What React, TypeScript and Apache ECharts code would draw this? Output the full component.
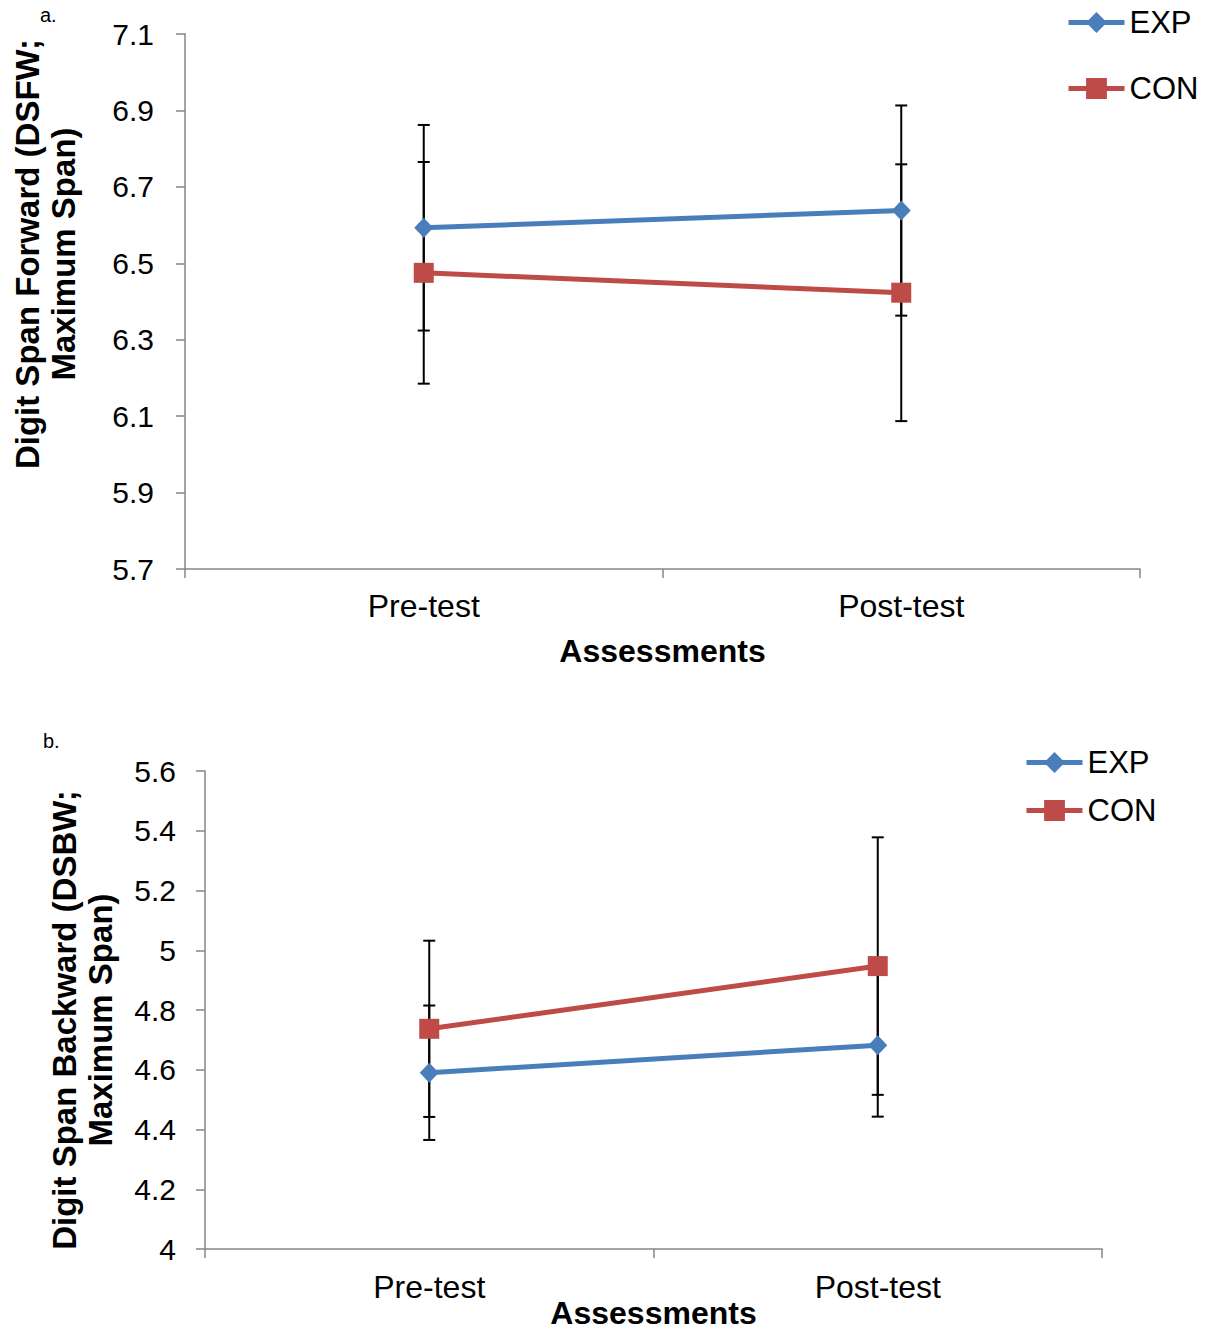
import React, { useEffect, useRef } from "react";
import * as echarts from "echarts";

// Assessment points on the x axis
const categories = ["Pre-test", "Post-test"];
const seriesNames = ["EXP", "CON"];

// (a) Digit Span Forward: group means and error bar half-widths
const fwExp = [6.593, 6.638];
const fwExpErr = [0.269, 0.275];
const fwCon = [6.475, 6.423];
const fwConErr = [0.29, 0.336];

// (b) Digit Span Backward: group means and error bar half-widths
const bwExp = [4.59, 4.682];
const bwExpErr = [0.225, 0.239];
const bwCon = [4.737, 4.947];
const bwConErr = [0.295, 0.431];

// Value axis ranges
const fwTicks = [5.7, 5.9, 6.1, 6.3, 6.5, 6.7, 6.9, 7.1];
const bwTicks = [4, 4.2, 4.4, 4.6, 4.8, 5, 5.2, 5.4, 5.6];

const BLUE = "#4A7EBB";
const RED = "#BE4B48";
const AXIS = "#868686";
const FONT = '"Liberation Sans", Arial, sans-serif';

function errorData(means: number[], errs: number[]) {
  return means.map((m, i) => [i, m - errs[i], m + errs[i]]);
}

function renderErrorBar(params: any, api: any) {
  const x = api.value(0);
  const lo = api.coord([x, api.value(1)]);
  const hi = api.coord([x, api.value(2)]);
  const cap = 6;
  const style = { stroke: "#000", lineWidth: 2 };
  return {
    type: "group",
    children: [
      { type: "line", shape: { x1: lo[0], y1: lo[1], x2: hi[0], y2: hi[1] }, style },
      { type: "line", shape: { x1: hi[0] - cap, y1: hi[1], x2: hi[0] + cap, y2: hi[1] }, style },
      { type: "line", shape: { x1: lo[0] - cap, y1: lo[1], x2: lo[0] + cap, y2: lo[1] }, style },
    ],
  };
}

function valueAxis(gridIndex: number, ticks: number[], margin: number, digits: boolean) {
  return {
    type: "value",
    gridIndex,
    min: ticks[0],
    max: ticks[ticks.length - 1],
    interval: Math.round((ticks[1] - ticks[0]) * 10) / 10,
    axisLine: { show: true, lineStyle: { color: AXIS, width: 1.5 } },
    axisTick: { show: true, length: 9, lineStyle: { color: AXIS, width: 1.5 } },
    splitLine: { show: false },
    axisLabel: {
      color: "#000",
      fontSize: 30,
      fontFamily: FONT,
      margin,
      formatter: (v: number) => (digits ? v.toFixed(1) : String(Math.round(v * 10) / 10)),
    },
  };
}

function categoryAxis(gridIndex: number, labelMargin: number, nameGap: number) {
  return {
    type: "category",
    gridIndex,
    data: categories,
    boundaryGap: true,
    name: "Assessments",
    nameLocation: "middle",
    nameGap,
    nameMoveOverlap: false,
    nameTextStyle: { color: "#000", fontSize: 32, fontWeight: "bold", fontFamily: FONT },
    axisLine: { show: true, lineStyle: { color: AXIS, width: 1.5 } },
    axisTick: { show: true, length: 9, alignWithLabel: false, lineStyle: { color: AXIS, width: 1.5 } },
    axisLabel: { color: "#000", fontSize: 32, fontFamily: FONT, margin: labelMargin },
  };
}

function lineSeries(name: string, data: number[], axisIndex: number, color: string, symbol: string, size: any) {
  return {
    type: "line",
    name,
    data,
    xAxisIndex: axisIndex,
    yAxisIndex: axisIndex,
    z: 3,
    symbol,
    symbolSize: size,
    showAllSymbol: true,
    lineStyle: { color, width: 5 },
    itemStyle: { color, borderWidth: 0 },
  };
}

function errorSeries(means: number[], errs: number[], axisIndex: number) {
  return {
    type: "custom",
    xAxisIndex: axisIndex,
    yAxisIndex: axisIndex,
    z: 1,
    renderItem: renderErrorBar,
    encode: { x: 0, y: [1, 2] },
    data: errorData(means, errs),
    silent: true,
  };
}

function legend(left: number, top: number, gap: number) {
  return {
    orient: "vertical",
    left,
    top,
    padding: 0,
    itemWidth: 56,
    itemHeight: 26,
    itemGap: gap,
    data: seriesNames,
    lineStyle: { width: 5 },
    textStyle: { color: "#000", fontSize: 31, fontFamily: FONT },
  };
}

export default function App() {
  const ref = useRef<HTMLDivElement>(null);

  useEffect(() => {
    if (!ref.current) return;
    const chart = echarts.init(ref.current, undefined, { renderer: "svg" });
    chart.setOption({
      animation: false,
      backgroundColor: "#fff",
      grid: [
        { left: 185, right: 69, top: 34, bottom: 765, outerBoundsMode: "none" },
        { left: 205, right: 107, top: 771, bottom: 85, outerBoundsMode: "none" },
      ],
      xAxis: [categoryAxis(0, 21, 66), categoryAxis(1, 22, 48)],
      yAxis: [valueAxis(0, fwTicks, 31, true), valueAxis(1, bwTicks, 29, false)],
      legend: [legend(1066, 7, 35), legend(1024, 747, 17)],
      graphic: [
        {
          type: "text",
          left: 40,
          top: 5,
          style: { text: "a.", font: `20px ${FONT}`, fill: "#000" },
        },
        {
          type: "text",
          left: 43,
          top: 731,
          style: { text: "b.", font: `20px ${FONT}`, fill: "#000" },
        },
        {
          type: "text",
          x: 45,
          y: 254,
          rotation: Math.PI / 2,
          style: {
            text: "Digit Span Forward (DSFW;\nMaximum Span)",
            font: `bold 33px ${FONT}`,
            fill: "#000",
            align: "center",
            verticalAlign: "middle",
            textAlign: "center",
            textVerticalAlign: "middle",
            lineHeight: 36,
          },
        },
        {
          type: "text",
          x: 82,
          y: 1020,
          rotation: Math.PI / 2,
          style: {
            text: "Digit Span Backward (DSBW;\nMaximum Span)",
            font: `bold 33px ${FONT}`,
            fill: "#000",
            align: "center",
            verticalAlign: "middle",
            textAlign: "center",
            textVerticalAlign: "middle",
            lineHeight: 36,
          },
        },
      ],
      series: [
        errorSeries(fwExp, fwExpErr, 0),
        errorSeries(fwCon, fwConErr, 0),
        lineSeries("EXP", fwExp, 0, BLUE, "diamond", [19, 20]),
        lineSeries("CON", fwCon, 0, RED, "rect", 20),
        errorSeries(bwExp, bwExpErr, 1),
        errorSeries(bwCon, bwConErr, 1),
        lineSeries("EXP", bwExp, 1, BLUE, "diamond", [19, 20]),
        lineSeries("CON", bwCon, 1, RED, "rect", 20),
      ],
    });
    return () => chart.dispose();
  }, []);

  return (
    <div
      ref={ref}
      style={{ position: "absolute", left: 0, top: 0, width: 1209, height: 1334 }}
    />
  );
}
